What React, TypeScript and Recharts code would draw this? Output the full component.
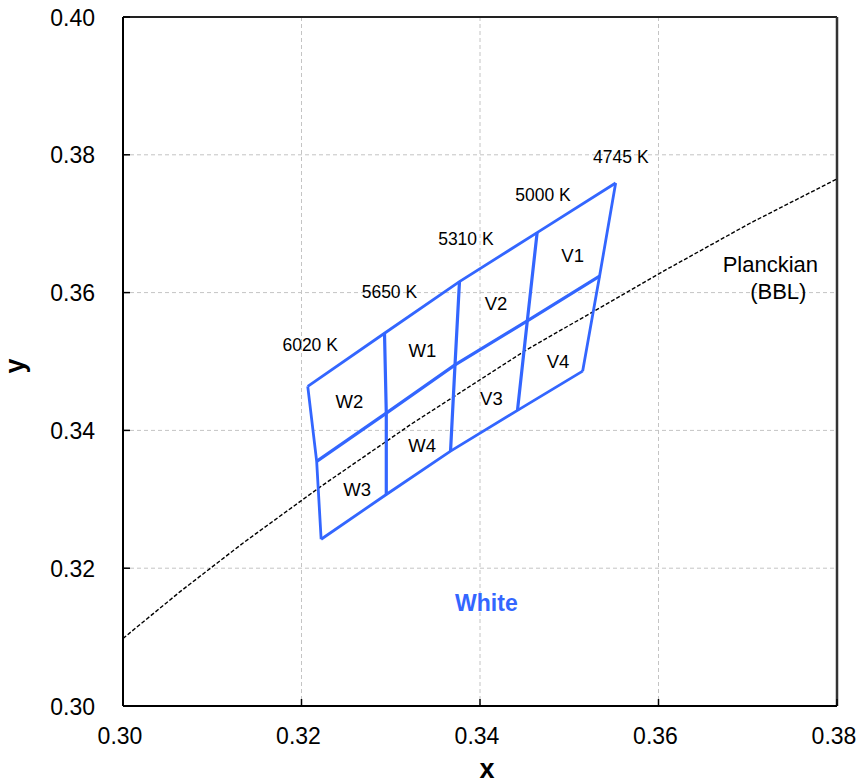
import React from 'react';
import {
  ScatterChart,
  Scatter,
  XAxis,
  YAxis,
  CartesianGrid,
  ReferenceLine,
} from 'recharts';

// ---- data (CIE 1931 x, y) ----
const isoTemps = ['6020 K', '5650 K', '5310 K', '5000 K', '4745 K'];
// outer top edge (upper boundary), one point per isotemperature line
const topX = [0.3207, 0.3293, 0.3377, 0.3464, 0.3552];
const topY = [0.3464, 0.3541, 0.3616, 0.3687, 0.3759];
// middle dividing line
const midX = [0.3217, 0.3295, 0.3372, 0.3453, 0.3534];
const midY = [0.3355, 0.3425, 0.3495, 0.3559, 0.3624];
// outer bottom edge
const botX = [0.3222, 0.3295, 0.3367, 0.3442, 0.3515];
const botY = [0.3242, 0.3307, 0.3370, 0.3429, 0.3486];

// temperature label positions
const tempLabelX = [0.32097, 0.32985, 0.33842, 0.34706, 0.35578];
const tempLabelY = [0.35237, 0.36011, 0.36772, 0.37415, 0.37963];

// bin labels
const binNames = ['W1', 'W2', 'W3', 'W4', 'V1', 'V2', 'V3', 'V4'];
const binX = [0.33355, 0.32537, 0.32623, 0.33351, 0.35038, 0.3418, 0.34128, 0.34875];
const binY = [0.35156, 0.34423, 0.33145, 0.33784, 0.36543, 0.35842, 0.34462, 0.34994];

// Planckian locus
const planckX = [0.3, 0.3064, 0.3135, 0.3221, 0.3324, 0.3451, 0.3611, 0.3703, 0.38];
const planckY = [0.3098, 0.3166, 0.3237, 0.3318, 0.341, 0.3516, 0.3635, 0.3701, 0.3765];

const xTicks = [0.3, 0.32, 0.34, 0.36, 0.38];
const yTicks = [0.3, 0.32, 0.34, 0.36, 0.38, 0.4];

const BLUE = '#3366ff';
const FONT = '"Liberation Sans", Arial, sans-serif';

// ---- derived series ----
const toPts = (xs: number[], ys: number[]) => xs.map((x, i) => ({ x, y: ys[i] }));
const topLine = toPts(topX, topY);
const midLine = toPts(midX, midY);
const botLine = toPts(botX, botY);
const isoLines = isoTemps.map((_, i) => [
  { x: topX[i], y: topY[i] },
  { x: midX[i], y: midY[i] },
  { x: botX[i], y: botY[i] },
]);
const planckLine = toPts(planckX, planckY);
const tempLabels = isoTemps.map((t, i) => ({ x: tempLabelX[i], y: tempLabelY[i], label: t }));
const binLabels = binNames.map((n, i) => ({ x: binX[i], y: binY[i], label: n }));
const planckLabels = [
  { x: 0.37253, y: 0.36413, label: 'Planckian' },
  { x: 0.37342, y: 0.3601, label: '(BBL)' },
];
const whiteLabel = [{ x: 0.34072, y: 0.31489, label: 'White' }];

const NoDot = () => <g />;

const makeTextShape =
  (fontSize: number, fill: string, fontWeight: string = 'normal') =>
  (props: any) => (
    <text
      x={props.cx}
      y={props.cy}
      textAnchor="middle"
      dominantBaseline="central"
      fontSize={fontSize}
      fill={fill}
      fontWeight={fontWeight}
      fontFamily={FONT}
    >
      {props.payload.label}
    </text>
  );

const YTick = (props: any) => {
  const { x, y, payload } = props;
  const axisX = x + 28;
  return (
    <g>
      <line x1={axisX} x2={axisX + 7} y1={y} y2={y} stroke="#000" strokeWidth={1.5} />
      <text x={x} y={y + 8.5} textAnchor="end" fontSize={23} fill="#000" fontFamily={FONT}>
        {payload.value.toFixed(2)}
      </text>
    </g>
  );
};

const XTick = (props: any) => {
  const { x, y, payload } = props;
  return (
    <g>
      <line x1={x} x2={x} y1={y} y2={y - 7} stroke="#000" strokeWidth={1.5} />
      <text x={x - 3} y={y + 38} textAnchor="middle" fontSize={23} fill="#000" fontFamily={FONT}>
        {payload.value.toFixed(2)}
      </text>
    </g>
  );
};

export default function App() {
  return (
    <div style={{ position: 'absolute', left: 0, top: 0, width: 860, height: 783, background: '#fff' }}>
      <ScatterChart
        width={860}
        height={783}
        margin={{ top: 17, right: 23, bottom: 0, left: 0 }}
        style={{ fontFamily: FONT }}
      >
        <CartesianGrid stroke="#c4c4c4" strokeDasharray="4 3" strokeWidth={1} />
        <XAxis
          type="number"
          dataKey="x"
          domain={[0.3, 0.38]}
          ticks={xTicks}
          allowDataOverflow
          height={77}
          tickLine={false}
          tickSize={0}
          tickMargin={0}
          axisLine={{ stroke: '#000', strokeWidth: 2 }}
          tick={<XTick />}
          label={{
            content: () => (
              <text x={487} y={778} textAnchor="middle" fontSize={27} fontWeight="bold" fontFamily={FONT} fill="#000">
                x
              </text>
            ),
          }}
        />
        <YAxis
          type="number"
          dataKey="y"
          domain={[0.3, 0.4]}
          ticks={yTicks}
          allowDataOverflow
          width={123}
          tickLine={false}
          tickSize={0}
          tickMargin={28}
          axisLine={{ stroke: '#000', strokeWidth: 2 }}
          tick={<YTick />}
          label={{
            content: () => (
              <text
                x={24}
                y={366}
                transform="rotate(-90 24 366)"
                textAnchor="middle"
                fontSize={27}
                fontWeight="bold"
                fontFamily={FONT}
                fill="#000"
              >
                y
              </text>
            ),
          }}
        />
        <ReferenceLine y={0.4} stroke="#222" strokeWidth={2} />
        <ReferenceLine x={0.38} stroke="#333" strokeWidth={2.5} />

        <Scatter
          data={planckLine}
          line={{ stroke: '#000', strokeWidth: 1.4, strokeDasharray: '4 2' }}
          shape={<NoDot />}
          isAnimationActive={false}
          legendType="none"
        />
        <Scatter data={topLine} line={{ stroke: BLUE, strokeWidth: 2.8 }} shape={<NoDot />} isAnimationActive={false} legendType="none" />
        <Scatter data={midLine} line={{ stroke: BLUE, strokeWidth: 3.2 }} shape={<NoDot />} isAnimationActive={false} legendType="none" />
        <Scatter data={botLine} line={{ stroke: BLUE, strokeWidth: 2.8 }} shape={<NoDot />} isAnimationActive={false} legendType="none" />
        {isoLines.map((pts, i) => (
          <Scatter
            key={'iso' + i}
            data={pts}
            line={{ stroke: BLUE, strokeWidth: i === 0 || i === 4 ? 2.8 : 3.2 }}
            shape={<NoDot />}
            isAnimationActive={false}
            legendType="none"
          />
        ))}

        <Scatter data={tempLabels} shape={makeTextShape(17.5, '#000')} isAnimationActive={false} legendType="none" />
        <Scatter data={binLabels} shape={makeTextShape(18.5, '#000')} isAnimationActive={false} legendType="none" />
        <Scatter data={planckLabels} shape={makeTextShape(22, '#000')} isAnimationActive={false} legendType="none" />
        <Scatter data={whiteLabel} shape={makeTextShape(23, BLUE, 'bold')} isAnimationActive={false} legendType="none" />
      </ScatterChart>
    </div>
  );
}
